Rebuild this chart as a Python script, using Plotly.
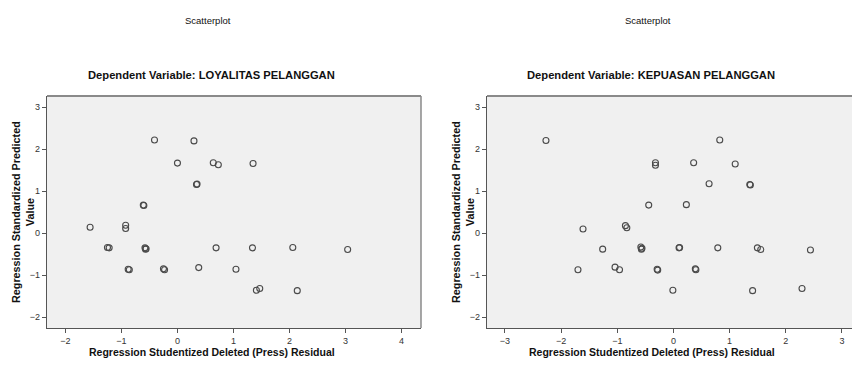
import plotly.graph_objects as go

W, H = 852, 365

# Left: Dependent Variable LOYALITAS PELANGGAN
left_x = [-1.56, -0.925, -0.925, -0.61, -0.60, -0.41, 0.0, 0.295, 0.34, 0.35, 0.64, 0.73, 1.35,
          -1.25, -1.22, -0.58, -0.56, -0.57, -0.88, -0.86, -0.25, -0.23, 0.38, 0.69, 1.34, 2.06, 3.04,
          1.045, 1.41, 1.47, 2.14]
left_y = [0.14, 0.19, 0.11, 0.67, 0.66, 2.22, 1.67, 2.20, 1.16, 1.17, 1.68, 1.63, 1.66,
          -0.34, -0.35, -0.35, -0.37, -0.38, -0.86, -0.87, -0.85, -0.87, -0.82, -0.35, -0.35, -0.34, -0.39,
          -0.86, -1.36, -1.32, -1.37]

# Right: Dependent Variable KEPUASAN PELANGGAN
right_x = [-2.27, -1.61, -0.855, -0.83, -0.44, -0.32, -0.32, 0.825, 0.36, 1.10, 0.635, 1.36, 1.37, 0.23,
           -1.70, -1.26, -1.04, -0.96, -0.58, -0.56, -0.57, -0.29, -0.28, 0.10, 0.11, 0.79, 1.495, 1.555,
           2.44, 0.39, 0.40, -0.01, 1.41, 2.29]
right_y = [2.21, 0.10, 0.18, 0.13, 0.67, 1.68, 1.62, 2.22, 1.68, 1.65, 1.18, 1.16, 1.15, 0.68,
           -0.87, -0.38, -0.81, -0.87, -0.33, -0.36, -0.38, -0.86, -0.88, -0.35, -0.34, -0.35, -0.35, -0.39,
           -0.40, -0.85, -0.87, -1.36, -1.37, -1.32]

titles = ["Dependent Variable: LOYALITAS PELANGGAN", "Dependent Variable: KEPUASAN PELANGGAN"]
x_title = "Regression Studentized Deleted (Press) Residual"
y_title = "Regression Standardized Predicted<br>Value"
left_xticks = [-2, -1, 0, 1, 2, 3, 4]
right_xticks = [-3, -2, -1, 0, 1, 2, 3]
yticks = [-2, -1, 0, 1, 2, 3]

FONT = "Liberation Sans Narrow, Arial Narrow, Liberation Sans, Arial, sans-serif"

def px(x):
    return x / W

def py(y):
    return 1 - y / H

fig = go.Figure()
marker = dict(symbol="circle-open", size=6, color="#4a4a4a", line=dict(width=1.1, color="#4a4a4a"))
fig.add_trace(go.Scatter(x=left_x, y=left_y, mode="markers", marker=marker, xaxis="x", yaxis="y",
                         showlegend=False))
fig.add_trace(go.Scatter(x=right_x, y=right_y, mode="markers", marker=marker, xaxis="x2", yaxis="y2",
                         showlegend=False))

ydom = [py(328), py(96)]
common = dict(showgrid=False, zeroline=False, showline=True, linecolor="#555555", linewidth=1.2,
              mirror=False, ticks="outside", ticklen=4, tickcolor="#555555",
              tickfont=dict(family=FONT, size=9, color="#333333"))

fig.update_layout(
    width=W, height=H, margin=dict(l=0, r=0, t=0, b=0),
    paper_bgcolor="white", plot_bgcolor="#f0f0f0",
    xaxis=dict(domain=[px(47), px(421)], range=[-2.33, 4.35], tickvals=left_xticks, anchor="y", **common),
    yaxis=dict(domain=ydom, range=[-2.26, 3.27], tickvals=yticks, anchor="x", **common),
    xaxis2=dict(domain=[px(487), px(852)], range=[-3.32, 3.18], tickvals=right_xticks, anchor="y2", **common),
    yaxis2=dict(domain=ydom, range=[-2.26, 3.27], tickvals=yticks, anchor="x2", **common),
)

# top / right border lines (grey box)
for (x0, x1) in [(47, 421), (487, 852)]:
    fig.add_shape(type="line", xref="paper", yref="paper", x0=px(x0), x1=px(x1), y0=py(96), y1=py(96),
                  line=dict(color="#8a8a8a", width=2))
fig.add_shape(type="line", xref="paper", yref="paper", x0=px(421), x1=px(421), y0=py(96), y1=py(328),
              line=dict(color="#8a8a8a", width=1.5))

ann = []
for cx, t in [(211, titles[0]), (651, titles[1])]:
    ann.append(dict(text="Scatterplot", x=px(cx - 3), y=py(20), xref="paper", yref="paper",
                    showarrow=False, font=dict(family=FONT, size=9.5, color="#111111"),
                    xanchor="center", yanchor="middle"))
    ann.append(dict(text="<b>" + t + "</b>", x=px(cx), y=py(75), xref="paper", yref="paper",
                    showarrow=False, font=dict(family=FONT, size=11.2, color="#111111"),
                    xanchor="center", yanchor="middle"))
    ann.append(dict(text="<b>" + x_title + "</b>", x=px(cx + 1), y=py(352), xref="paper", yref="paper",
                    showarrow=False, font=dict(family=FONT, size=10.5, color="#111111"),
                    xanchor="center", yanchor="middle"))
for xx in [23, 463]:
    ann.append(dict(text="<b>" + y_title + "</b>", x=px(xx), y=py(212), xref="paper", yref="paper",
                    showarrow=False, textangle=-90, font=dict(family=FONT, size=10.8, color="#111111"),
                    xanchor="center", yanchor="middle"))
fig.update_layout(annotations=ann)

fig.write_html("out.html")
